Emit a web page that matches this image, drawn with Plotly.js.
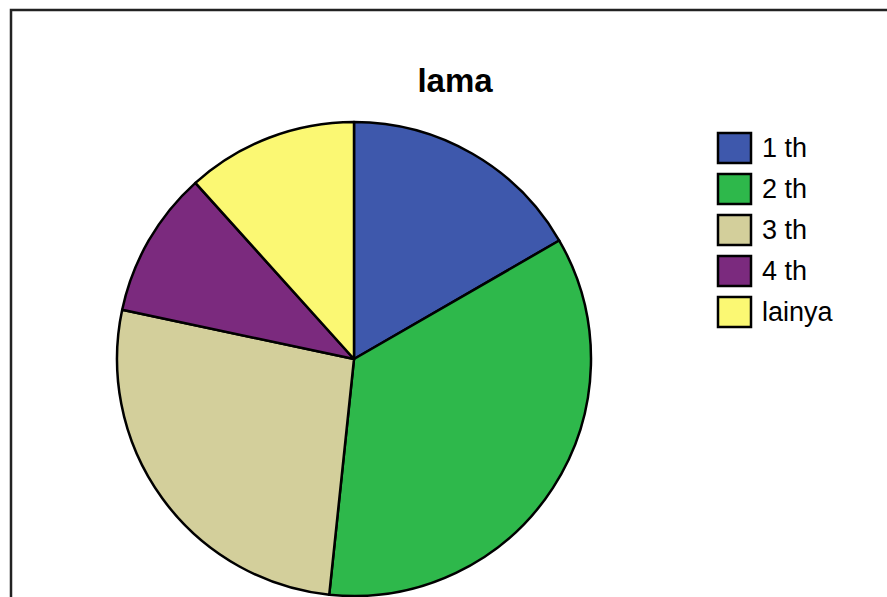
<!DOCTYPE html>
<html>
<head>
<meta charset="utf-8">
<script src="https://cdn.plot.ly/plotly-3.0.1.min.js"></script>
<style>html,body{margin:0;padding:0;background:#fff;}#chart{width:887px;height:597px;}</style>
</head>
<body>
<div id="chart"></div>
<script>
const categories = ['1 th', '2 th', '3 th', '4 th', 'lainya'];
const counts = [10, 21, 16, 6, 7];
const colors = ['#3E58AC', '#2EB84B', '#D3CF9B', '#7B2A7E', '#FBF873'];
const chartTitle = 'lama';

const W = 887, H = 597;
const px = x => x / W;
const py = y => 1 - y / H;

const shapes = [{
  type: 'rect', xref: 'paper', yref: 'paper',
  x0: px(11), x1: px(900), y0: py(10), y1: py(620),
  line: {color: '#222', width: 2.5}, fillcolor: 'rgba(0,0,0,0)'
}];
const annotations = [];
const legTop = 133, legStep = 41, boxW = 33, boxH = 30, boxX = 718;
categories.forEach((c, i) => {
  const y0 = legTop + i * legStep;
  shapes.push({
    type: 'rect', xref: 'paper', yref: 'paper',
    x0: px(boxX), x1: px(boxX + boxW), y0: py(y0), y1: py(y0 + boxH),
    line: {color: '#000', width: 2.5}, fillcolor: colors[i]
  });
  annotations.push({
    xref: 'paper', yref: 'paper', x: px(760), y: py(y0 + boxH / 2),
    xanchor: 'left', yanchor: 'middle', showarrow: false, text: c,
    font: {family: 'Liberation Sans, Arial, sans-serif', size: 27, color: '#000'}
  });
});

const data = [{
  type: 'pie', labels: categories, values: counts, sort: false,
  direction: 'clockwise', rotation: 0, textinfo: 'none', hoverinfo: 'label+value',
  marker: {colors: colors, line: {color: '#000', width: 2.5}},
  domain: {x: [px(117), px(591)], y: [py(596), py(122)]},
  showlegend: false
}];

const layout = {
  width: W, height: H,
  margin: {l: 0, r: 0, t: 0, b: 0},
  paper_bgcolor: '#fff',
  showlegend: false,
  title: {
    text: '<b>' + chartTitle + '</b>', x: px(455), y: py(80), xref: 'paper', yref: 'container',
    xanchor: 'center', yanchor: 'middle',
    font: {family: 'Liberation Sans, Arial, sans-serif', size: 33, color: '#000'}
  },
  shapes: shapes,
  annotations: annotations
};
Plotly.newPlot('chart', data, layout, {displayModeBar: false, staticPlot: true});
</script>
</body>
</html>
